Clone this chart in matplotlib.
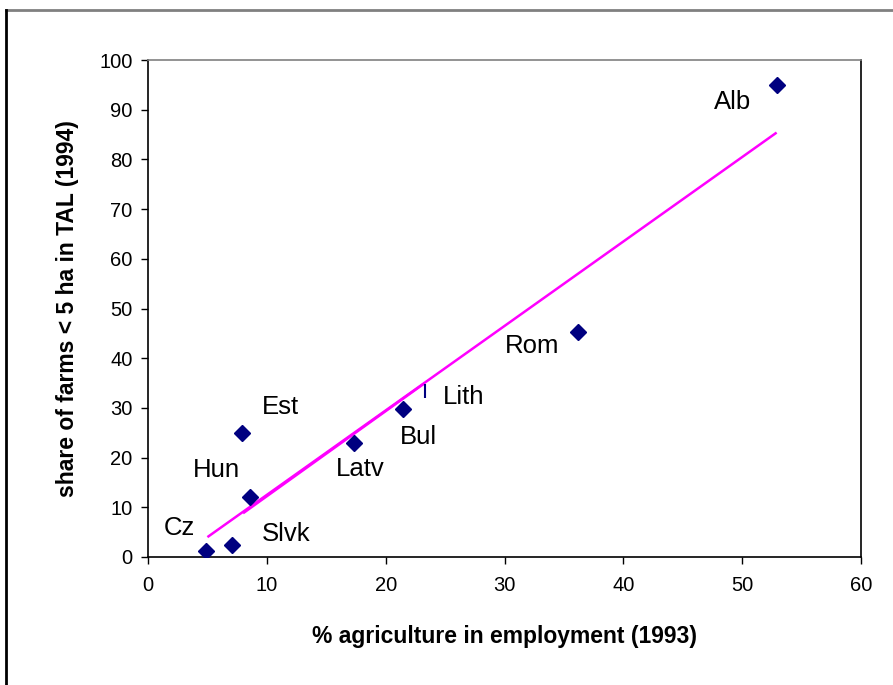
import matplotlib
matplotlib.use("Agg")
import matplotlib.pyplot as plt
from matplotlib.lines import Line2D

plt.rcParams['font.family'] = ['Liberation Sans', 'DejaVu Sans']

countries = ["Cz", "Slvk", "Hun", "Est", "Latv", "Bul", "Rom", "Alb"]
agri_employment = [4.9, 7.1, 8.6, 7.9, 17.3, 21.5, 36.2, 52.9]
small_farm_share = [1.2, 2.4, 12.1, 25.0, 22.9, 29.8, 45.2, 95.0]

lith_x = [23.3]
lith_y = [33.3]

trend_x = [5.0, 52.9]
trend_y = [4.0, 85.4]
trend2_x = [8.0, 23.3]
trend2_y = [8.8, 35.0]

# label positions (data coords) for each country
label_x = [1.3, 9.6, 3.8, 9.6, 15.8, 21.2, 30.0, 47.6]
label_y = [5.8, 4.6, 17.6, 30.2, 17.7, 24.2, 42.4, 91.5]
lith_label = (24.8, 32.1)

x_ticks = [0, 10, 20, 30, 40, 50, 60]
y_ticks = [0, 10, 20, 30, 40, 50, 60, 70, 80, 90, 100]

fig = plt.figure(figsize=(8.93, 6.85), dpi=100)
ax = fig.add_axes([148/893, 1-557/685, (861-148)/893, (557-60)/685])

ax.plot(trend_x, trend_y, color='#FF00FF', lw=1.8, zorder=2, solid_capstyle='butt')
ax.plot(trend2_x, trend2_y, color='#FF00FF', lw=1.8, zorder=2, solid_capstyle='butt')
ax.plot(agri_employment, small_farm_share, linestyle='none', marker='D',
        markersize=8, color='#000080', zorder=3)
ax.plot(lith_x, lith_y, linestyle='none', marker='|', markersize=10,
        markeredgewidth=1.5, color='#000080', zorder=3)

for name, lx, ly in zip(countries, label_x, label_y):
    ax.text(lx, ly, name, fontsize=18.5, ha='left', va='center', color='black')
ax.text(lith_label[0], lith_label[1], "Lith", fontsize=18.5, ha='left', va='center')

ax.set_xlim(0, 60)
ax.set_ylim(0, 100)
ax.set_xticks(x_ticks)
ax.set_yticks(y_ticks)
ax.tick_params(axis='both', direction='out', length=5, width=1, labelsize=14.5,
               color='black')
ax.tick_params(axis='x', pad=9)
ax.tick_params(axis='y', pad=6)
for s in ['left', 'bottom', 'right']:
    ax.spines[s].set_color('black')
    ax.spines[s].set_linewidth(1.2)
ax.spines['top'].set_color('#808080')
ax.spines['top'].set_linewidth(1.2)

ax.set_xlabel("% agriculture in employment (1993)", fontsize=16.5, fontweight='bold', labelpad=21)
ax.set_ylabel("share of farms < 5 ha in TAL (1994)", fontsize=16.5, fontweight='bold', labelpad=15)

# figure frame
fig.add_artist(Line2D([6/893, 1], [1-10/685, 1-10/685], transform=fig.transFigure,
                      color='#808080', lw=2))
fig.add_artist(Line2D([6/893, 6/893], [0, 1-10/685], transform=fig.transFigure,
                      color='black', lw=2))

fig.savefig("out.png", dpi=100)
